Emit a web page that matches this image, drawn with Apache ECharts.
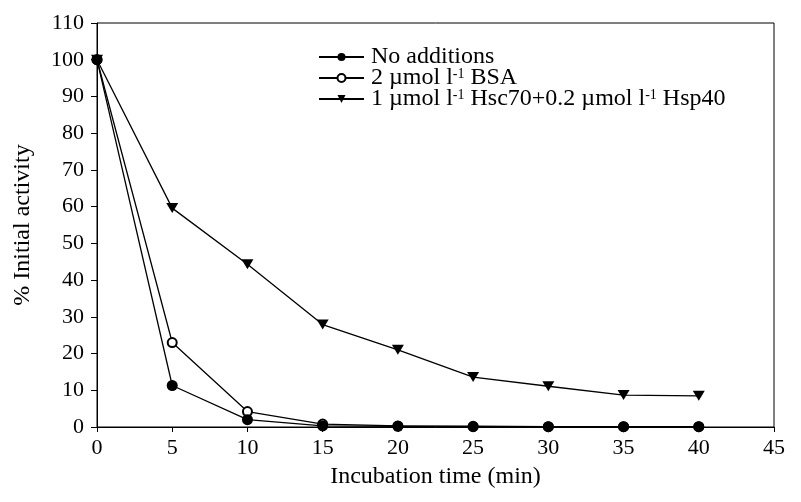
<!DOCTYPE html>
<html><head><meta charset="utf-8">
<script src="https://cdn.jsdelivr.net/npm/echarts@6/dist/echarts.min.js"></script>
<style>html,body{margin:0;padding:0;background:#fff}#c{width:801px;height:502px}</style>
</head><body><div id="c"></div>
<script>
var times = [0, 5, 10, 15, 20, 25, 30, 35, 40];
var noAdditions = [100, 11.3, 2.0, 0.3, 0.2, 0.1, 0.1, 0.1, 0.1];
var bsa = [100, 23.0, 4.2, 0.8, 0.3, 0.2, 0.1, 0.1, 0.1];
var hsc = [100, 59.6, 44.3, 27.9, 21.0, 13.6, 11.1, 8.7, 8.5];
var seriesNames = ['No additions', '2 µmol l-1 BSA', '1 µmol l-1 Hsc70+0.2 µmol l-1 Hsp40'];
var legendLabels = {
  'No additions': 'No additions',
  '2 µmol l-1 BSA': '2 µmol l{sup|-1} BSA',
  '1 µmol l-1 Hsc70+0.2 µmol l-1 Hsp40': '1 µmol l{sup|-1} Hsc70+0.2 µmol l{sup|-1} Hsp40'
};
function pairs(v){ return times.map(function(t,i){ return [t, v[i]]; }); }
var font = 'Liberation Serif';
var chart = echarts.init(document.getElementById('c'));
chart.setOption({
  animation: false,
  grid: {left: 97, right: 27, top: 23, bottom: 75, show: true, borderColor: '#000', borderWidth: 1},
  legend: {
    left: 313, top: 40, orient: 'vertical', itemGap: -3, itemWidth: 45, itemHeight: 10,
    data: seriesNames,
    formatter: function(n){ return legendLabels[n]; },
    textStyle: {fontFamily: font, fontSize: 24, color: '#000', lineHeight: 20, padding: [0,0,0,2],
      rich: {sup: {fontFamily: font, fontSize: 14, color: '#000', lineHeight: 14, padding: [0,0,7,0]}}}
  },
  xAxis: {
    type: 'value', min: 0, max: 45, interval: 5,
    name: 'Incubation time (min)', nameLocation: 'middle', nameGap: 38,
    nameTextStyle: {fontFamily: font, fontSize: 24, color: '#000'},
    axisLine: {show: true, onZero: false, lineStyle: {color: '#000', width: 1}},
    axisTick: {show: true, length: 5, lineStyle: {color: '#000'}},
    axisLabel: {fontFamily: font, fontSize: 22, color: '#000', margin: 10},
    splitLine: {show: false}
  },
  yAxis: {
    type: 'value', min: 0, max: 110, interval: 10,
    name: '% Initial activity', nameLocation: 'middle', nameGap: 62, nameRotate: 90,
    nameTextStyle: {fontFamily: font, fontSize: 24, color: '#000'},
    axisLine: {show: true, lineStyle: {color: '#000', width: 1}},
    axisTick: {show: true, length: 6, lineStyle: {color: '#000'}},
    axisLabel: {fontFamily: font, fontSize: 22, color: '#000', margin: 13},
    splitLine: {show: false}
  },
  series: [
    {name: seriesNames[1], type: 'line', data: pairs(bsa), z: 2,
     symbol: 'emptyCircle', symbolSize: 9,
     itemStyle: {color: '#000', borderWidth: 1},
     lineStyle: {color: '#000', width: 1.3}},
    {name: seriesNames[2], type: 'line', data: pairs(hsc), z: 3,
     symbol: 'triangle', symbolRotate: 180, symbolSize: [12, 10],
     itemStyle: {color: '#000'}, lineStyle: {color: '#000', width: 1.3}},
    {name: seriesNames[0], type: 'line', data: pairs(noAdditions), z: 4,
     symbol: 'circle', symbolSize: 11,
     itemStyle: {color: '#000'}, lineStyle: {color: '#000', width: 1.3}}
  ]
});
</script></body></html>
